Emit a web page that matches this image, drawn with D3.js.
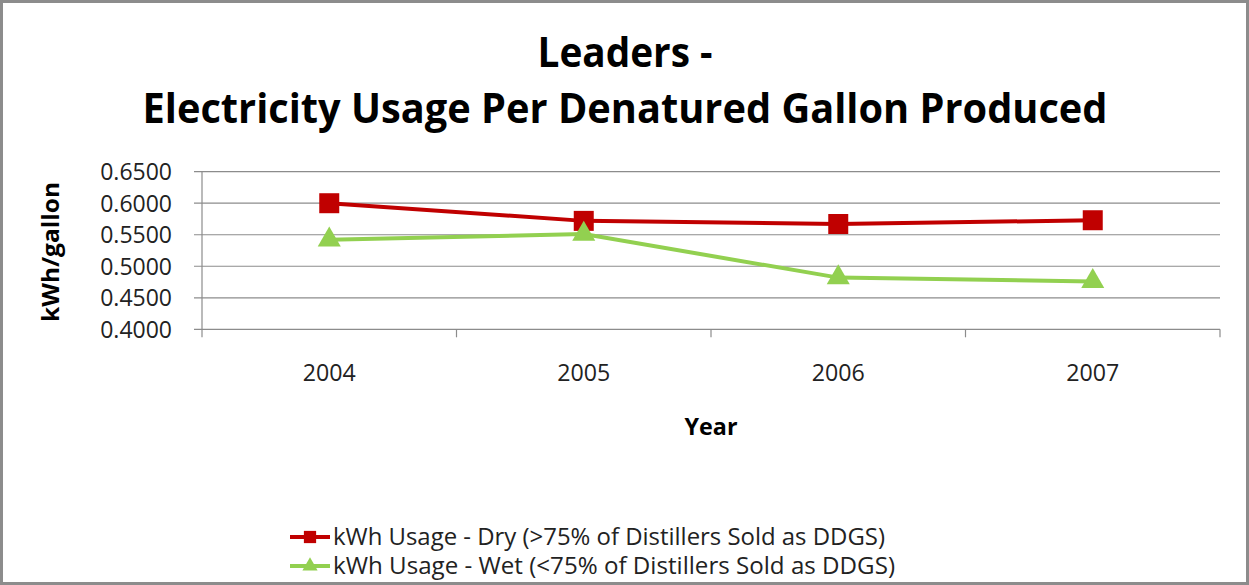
<!DOCTYPE html>
<html>
<head>
<meta charset="utf-8">
<script src="https://cdn.jsdelivr.net/npm/d3@7"></script>
<style>
  body { margin: 0; background: #fff; }
  text { font-family: "Open Sans", "Noto Sans", sans-serif; }
</style>
</head>
<body>
<svg id="chart" width="1249" height="585"></svg>
<script>
// chart data
const years = ["2004", "2005", "2006", "2007"];
const dryValues = [0.600, 0.572, 0.567, 0.573];
const wetValues = [0.542, 0.551, 0.482, 0.476];
const yTicks = [0.40, 0.45, 0.50, 0.55, 0.60, 0.65];
const seriesNames = [
    "kWh Usage - Dry (>75% of Distillers Sold as DDGS)",
    "kWh Usage - Wet (<75% of Distillers Sold as DDGS)"
];

const svg = d3.select("#chart");
const W = 1249, H = 585;

// outer frame
svg.append("rect")
    .attr("x", 1.5).attr("y", 1.5)
    .attr("width", W - 3).attr("height", H - 3)
    .attr("fill", "#fff")
    .attr("stroke", "#8c8c8c")
    .attr("stroke-width", 3);

const plot = { left: 202, right: 1220, top: 171.7, bottom: 329.3 };

const x = d3.scaleBand().domain(years).range([plot.left, plot.right]);
const y = d3.scaleLinear().domain([0.40, 0.65]).range([plot.bottom, plot.top]);

// gridlines
svg.append("g")
    .selectAll("line")
    .data(yTicks)
    .join("line")
    .attr("x1", plot.left - 8).attr("x2", plot.right)
    .attr("y1", d => y(d)).attr("y2", d => y(d))
    .attr("stroke", "#8c8c8c")
    .attr("stroke-width", 1.2);

// y axis line
svg.append("line")
    .attr("x1", plot.left).attr("x2", plot.left)
    .attr("y1", plot.top).attr("y2", plot.bottom + 8)
    .attr("stroke", "#8c8c8c").attr("stroke-width", 1.2);

// x category ticks
const xTickPos = years.map(d => x(d)).concat([plot.right]);
svg.append("g")
    .selectAll("line")
    .data(xTickPos.slice(1))
    .join("line")
    .attr("x1", d => d).attr("x2", d => d)
    .attr("y1", plot.bottom).attr("y2", plot.bottom + 8)
    .attr("stroke", "#8c8c8c").attr("stroke-width", 1.2);

// y tick labels
svg.append("g")
    .selectAll("text")
    .data(yTicks)
    .join("text")
    .attr("x", 172)
    .attr("y", d => y(d))
    .attr("dy", "0.36em")
    .attr("text-anchor", "end")
    .attr("font-size", 23)
    .attr("fill", "#222")
    .text(d => d3.format(".4f")(d));

// x tick labels
svg.append("g")
    .selectAll("text")
    .data(years)
    .join("text")
    .attr("x", d => x(d) + x.bandwidth() / 2)
    .attr("y", 381)
    .attr("text-anchor", "middle")
    .attr("font-size", 24)
    .attr("fill", "#222")
    .attr("textLength", 53).attr("lengthAdjust", "spacingAndGlyphs")
    .text(d => d);

// axis titles
svg.append("text")
    .attr("x", 711).attr("y", 435)
    .attr("text-anchor", "middle")
    .attr("font-size", 24).attr("font-weight", "bold")
    .attr("textLength", 53).attr("lengthAdjust", "spacingAndGlyphs")
    .text("Year");

svg.append("text")
    .attr("transform", "translate(59,252) rotate(-90)")
    .attr("text-anchor", "middle")
    .attr("font-size", 23).attr("font-weight", "bold")
    .attr("textLength", 140).attr("lengthAdjust", "spacingAndGlyphs")
    .text("kWh/gallon");

// title
svg.append("text")
    .attr("x", 625).attr("y", 67)
    .attr("text-anchor", "middle")
    .attr("font-size", 42).attr("font-weight", "bold")
    .attr("textLength", 175).attr("lengthAdjust", "spacingAndGlyphs")
    .text("Leaders -");
svg.append("text")
    .attr("x", 625).attr("y", 123)
    .attr("text-anchor", "middle")
    .attr("font-size", 42).attr("font-weight", "bold")
    .attr("textLength", 965).attr("lengthAdjust", "spacingAndGlyphs")
    .text("Electricity Usage Per Denatured Gallon Produced");

const red = "#C00000", green = "#92D050";
const cx = d => x(d) + x.bandwidth() / 2;
const line = d3.line().x((d, i) => cx(years[i])).y(d => y(d));

svg.append("path").datum(dryValues)
    .attr("d", line).attr("fill", "none")
    .attr("stroke", red).attr("stroke-width", 4);
svg.append("path").datum(wetValues)
    .attr("d", line).attr("fill", "none")
    .attr("stroke", green).attr("stroke-width", 4);

const square = d3.symbol().type(d3.symbolSquare).size(400);
const tri = d3.symbol().type(d3.symbolTriangle).size(230);

svg.append("g").selectAll("path")
    .data(dryValues).join("path")
    .attr("d", square)
    .attr("transform", (d, i) => `translate(${cx(years[i])},${y(d)})`)
    .attr("fill", red);
svg.append("g").selectAll("path")
    .data(wetValues).join("path")
    .attr("d", tri)
    .attr("transform", (d, i) => `translate(${cx(years[i])},${y(d)})`)
    .attr("fill", green);

// legend
const legend = svg.append("g");
const legY = [537, 566];
const legColors = [red, green];
const legLen = [552, 562];
seriesNames.forEach((name, i) => {
    legend.append("line")
        .attr("x1", 290).attr("x2", 330)
        .attr("y1", legY[i]).attr("y2", legY[i])
        .attr("stroke", legColors[i]).attr("stroke-width", 4);
    legend.append("path")
        .attr("d", i === 0 ? d3.symbol().type(d3.symbolSquare).size(150)() : d3.symbol().type(d3.symbolTriangle).size(100)())
        .attr("transform", `translate(310,${legY[i]})`)
        .attr("fill", legColors[i]);
    legend.append("text")
        .attr("x", 333).attr("y", legY[i])
        .attr("dy", "0.36em")
        .attr("font-size", 23)
        .attr("fill", "#222")
        .attr("textLength", legLen[i]).attr("lengthAdjust", "spacingAndGlyphs")
        .text(name);
});
</script>
</body>
</html>
